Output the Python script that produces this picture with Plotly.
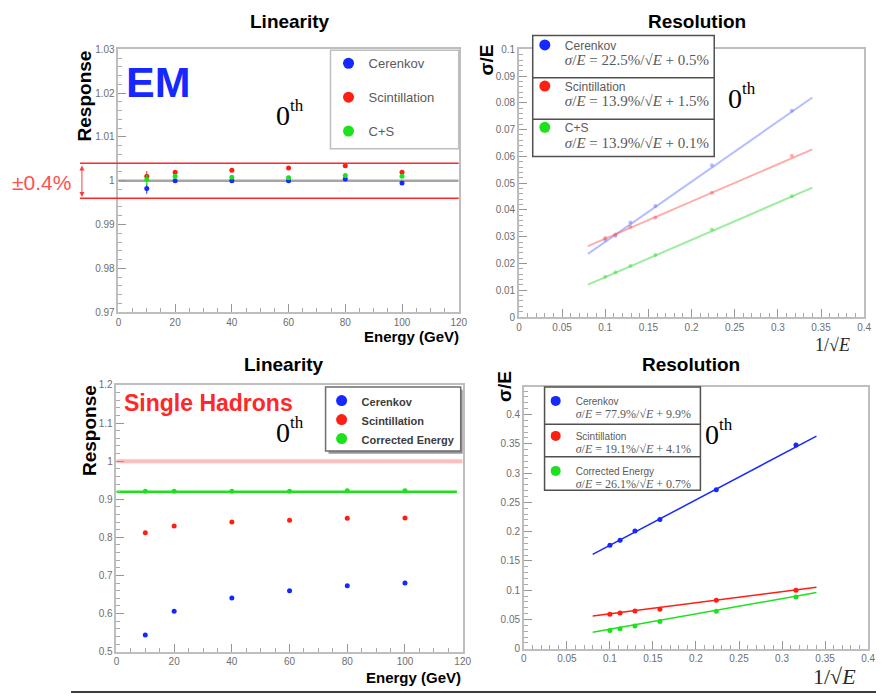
import plotly.graph_objects as go

W, H = 885, 700
def px(x): return x / W
def py(y): return 1 - y / H

# ---------------- data ----------------
energy = [10, 20, 40, 60, 80, 100]
inv_sqrt_e = [0.3162, 0.2236, 0.1581, 0.1291, 0.1118, 0.1000]

em_lin_cer = [0.9982, 1.0000, 1.0000, 1.0000, 1.0004, 0.9995]
em_lin_sci = [1.0010, 1.0019, 1.0024, 1.0029, 1.0034, 1.0019]
em_lin_cs = [1.0002, 1.0010, 1.0008, 1.0007, 1.0012, 1.0010]
em_lin_err = [0.0012, 0.0005, 0.0004, 0.0004, 0.0004, 0.0004]
em_band = [0.996, 1.004]

em_res_cer = [0.0770, 0.0567, 0.0415, 0.0353, 0.0304, 0.0289]
em_res_sci = [0.0602, 0.0464, 0.0372, 0.0337, 0.0308, 0.0295]
em_res_cs = [0.0451, 0.0327, 0.0232, 0.0191, 0.0167, 0.0150]
fit_x = [0.08, 0.34]
em_fit_cer = [0.0236, 0.0820]
em_fit_sci = [0.0265, 0.0626]
em_fit_cs = [0.0121, 0.0483]

had_lin_cer = [0.544, 0.606, 0.641, 0.660, 0.673, 0.680]
had_lin_sci = [0.812, 0.830, 0.840, 0.845, 0.850, 0.851]
had_lin_corr = [0.921, 0.921, 0.921, 0.921, 0.922, 0.922]
had_corr_level = 0.92
had_corr_range = [0, 118]

had_res_cer = [0.348, 0.2716, 0.2207, 0.2010, 0.1854, 0.1765]
had_res_sci = [0.0997, 0.0829, 0.0672, 0.0644, 0.0610, 0.0588]
had_res_corr = [0.0884, 0.0638, 0.0464, 0.0390, 0.0340, 0.0313]
had_fit_cer = [0.161, 0.363]
had_fit_sci = [0.056, 0.105]
had_fit_corr = [0.028, 0.096]

em_names = ["Cerenkov", "Scintillation", "C+S"]
had_names = ["Cerenkov", "Scintillation", "Corrected Energy"]
em_formulas = [("22.5", "0.5"), ("13.9", "1.5"), ("13.9", "0.1")]
had_formulas = [("77.9", "9.9"), ("19.1", "4.1"), ("26.1", "0.7")]

BLUE = "rgb(20,40,255)"
RED = "rgb(255,30,20)"
GREEN = "rgb(30,225,30)"
cols = [BLUE, RED, GREEN]
light = ["rgba(90,110,255,0.45)", "rgba(255,90,90,0.5)", "rgba(60,220,60,0.5)"]

fig = go.Figure()

# ---------- top-left: EM linearity ----------
for name, ys, c, lg in zip(em_names, [em_lin_cer, em_lin_sci, em_lin_cs], cols, range(3)):
    fig.add_trace(go.Scatter(x=energy, y=ys, mode="markers", xaxis="x", yaxis="y",
                             marker=dict(color=c, size=5),
                             error_y=dict(type="data", array=em_lin_err, color=c, thickness=1, width=0),
                             showlegend=False))
    fig.add_trace(go.Scatter(x=[None], y=[None], mode="markers", xaxis="x", yaxis="y",
                             marker=dict(color=c, size=11), name=name, legend="legend",
                             legendgroup="a%d" % lg))

# ---------- top-right: EM resolution ----------
def formula(s, c, fs):
    return ("<span style='font-family:Liberation Serif;font-size:%dpx'><i>σ</i>/<i>E</i> = %s%%/√<i>E</i> + %s%%</span>"
            % (fs, s, c))

for name, ys, fy, c, lc, (s, k), lg in zip(em_names, [em_res_cer, em_res_sci, em_res_cs],
                                            [em_fit_cer, em_fit_sci, em_fit_cs], cols, light,
                                            em_formulas, range(3)):
    fig.add_trace(go.Scatter(x=fit_x, y=fy, mode="lines", xaxis="x2", yaxis="y2",
                             line=dict(color=lc, width=2), showlegend=False))
    fig.add_trace(go.Scatter(x=inv_sqrt_e, y=ys, mode="markers", xaxis="x2", yaxis="y2",
                             marker=dict(color=lc, size=4), showlegend=False))
    fig.add_trace(go.Scatter(x=[None], y=[None], mode="markers", xaxis="x2", yaxis="y2",
                             marker=dict(color=c, size=11), name=name + "<br>" + formula(s, k, 15),
                             legend="legend2", legendgroup="b%d" % lg))

# ---------- bottom-left: hadron linearity ----------
fig.add_trace(go.Scatter(x=had_corr_range, y=[had_corr_level, had_corr_level], mode="lines",
                         xaxis="x3", yaxis="y3", line=dict(color=GREEN, width=2.5), showlegend=False))
for name, ys, c, lg in zip(had_names, [had_lin_cer, had_lin_sci, had_lin_corr], cols, range(3)):
    fig.add_trace(go.Scatter(x=energy, y=ys, mode="markers", xaxis="x3", yaxis="y3",
                             marker=dict(color=c, size=5), showlegend=False))
    fig.add_trace(go.Scatter(x=[None], y=[None], mode="markers", xaxis="x3", yaxis="y3",
                             marker=dict(color=c, size=11), name=name, legend="legend3",
                             legendgroup="c%d" % lg))

# ---------- bottom-right: hadron resolution ----------
for name, ys, fy, c, (s, k), lg in zip(had_names, [had_res_cer, had_res_sci, had_res_corr],
                                       [had_fit_cer, had_fit_sci, had_fit_corr], cols,
                                       had_formulas, range(3)):
    fig.add_trace(go.Scatter(x=fit_x, y=fy, mode="lines", xaxis="x4", yaxis="y4",
                             line=dict(color=c, width=1.5), showlegend=False))
    fig.add_trace(go.Scatter(x=inv_sqrt_e, y=ys, mode="markers", xaxis="x4", yaxis="y4",
                             marker=dict(color=c, size=5), showlegend=False))
    fig.add_trace(go.Scatter(x=[None], y=[None], mode="markers", xaxis="x4", yaxis="y4",
                             marker=dict(color=c, size=10), name=name + "<br>" + formula(s, k, 12),
                             legend="legend4", legendgroup="d%d" % lg))

# ---------------- axes ----------------
FRAME = "rgb(190,190,190)"
TICKF = dict(family="Liberation Sans", size=10, color="rgb(110,110,110)")

def ax(domain, rng, dtick, mdtick, anchor, **kw):
    d = dict(domain=domain, range=rng, dtick=dtick, tick0=0, anchor=anchor,
             showline=True, mirror=True, linecolor=FRAME, linewidth=1.5,
             ticks="inside", ticklen=8, tickcolor="rgb(150,150,150)", tickwidth=1,
             minor=dict(ticks="inside", ticklen=4, dtick=mdtick, tickcolor="rgb(170,170,170)"),
             showgrid=False, zeroline=False, tickfont=TICKF, fixedrange=True)
    d.update(kw)
    return d

fig.update_layout(
    xaxis=ax([px(117), px(462)], [0, 120], 20, 5, "y"),
    yaxis=ax([py(312), py(45)], [0.97, 1.03], 0.01, 0.002, "x", tickformat="~g"),
    xaxis2=ax([px(523), px(873)], [0, 0.4], 0.05, 0.01, "y2"),
    yaxis2=ax([py(317), py(45)], [0, 0.1], 0.01, 0.002, "x2"),
    xaxis3=ax([px(115), px(466)], [0, 120], 20, 5, "y3"),
    yaxis3=ax([py(657), py(386)], [0.5, 1.2], 0.1, 0.02, "x3"),
    xaxis4=ax([px(528), px(877)], [0, 0.4], 0.05, 0.01, "y4"),
    yaxis4=ax([py(654), py(388)], [0, 0.447], 0.05, 0.01, "x4"),
)

# ---------------- legends ----------------
def leg(x, y, size, gap, weight="normal", color="rgb(90,90,90)"):
    return dict(x=px(x), y=py(y), xanchor="left", yanchor="top", bgcolor="rgba(0,0,0,0)",
                borderwidth=0, font=dict(family="Liberation Sans", size=size, color=color, weight=weight),
                tracegroupgap=gap, valign="top", itemclick=False, itemdoubleclick=False)

fig.update_layout(
    legend=leg(330, 44, 13, 14),
    legend2=leg(529, 26, 12, 7),
    legend3=leg(323, 388, 11, 0, weight="bold", color="rgb(60,60,60)"),
    legend4=leg(540, 389, 10, 6),
)

shapes = []
# legend boxes
shapes.append(dict(type="rect", xref="paper", yref="paper", x0=px(332), x1=px(462), y0=py(146), y1=py(46),
                   line=dict(color=FRAME, width=1.5), fillcolor="white", layer="above"))
shapes.append(dict(type="rect", xref="paper", yref="paper", x0=px(537), x1=px(721), y0=py(154), y1=py(31),
                   line=dict(color="rgb(80,80,80)", width=1.5), fillcolor="white", layer="above"))
for yy in [74, 116]:
    shapes.append(dict(type="line", xref="paper", yref="paper", x0=px(537), x1=px(721), y0=py(yy), y1=py(yy),
                       line=dict(color="rgb(80,80,80)", width=1.5), layer="above"))
shapes.append(dict(type="rect", xref="paper", yref="paper", x0=px(330), x1=px(466), y0=py(456), y1=py(391),
                   line=dict(color="rgb(150,150,150)", width=0), fillcolor="rgb(150,150,150)", layer="above"))
shapes.append(dict(type="rect", xref="paper", yref="paper", x0=px(327), x1=px(464), y0=py(453), y1=py(388),
                   line=dict(color="rgb(110,110,110)", width=1.5), fillcolor="white", layer="above"))
shapes.append(dict(type="rect", xref="paper", yref="paper", x0=px(549), x1=px(707), y0=py(493), y1=py(388),
                   line=dict(color="rgb(80,80,80)", width=1.5), fillcolor="white", layer="above"))
for yy in [426, 459]:
    shapes.append(dict(type="line", xref="paper", yref="paper", x0=px(549), x1=px(707), y0=py(yy), y1=py(yy),
                       line=dict(color="rgb(80,80,80)", width=1.5), layer="above"))
# EM reference lines
shapes.append(dict(type="line", xref="x", yref="y", x0=0, x1=120, y0=1, y1=1,
                   line=dict(color="rgb(165,165,165)", width=2.5), layer="below"))
for b in em_band:
    shapes.append(dict(type="line", xref="paper", yref="y", x0=px(78), x1=px(462), y0=b, y1=b,
                       line=dict(color="rgb(255,40,40)", width=1.5)))
# hadron reference line at 1
shapes.append(dict(type="line", xref="x3", yref="y3", x0=0, x1=120, y0=1, y1=1,
                   line=dict(color="rgb(255,190,190)", width=4), layer="below"))
# bottom rule
shapes.append(dict(type="line", xref="paper", yref="paper", x0=px(69), x1=1, y0=py(698), y1=py(698),
                   line=dict(color="rgb(60,60,60)", width=2)))
fig.update_layout(shapes=shapes)

# ---------------- annotations ----------------
ann = []
def text(x, y, t, size, color="black", family="Liberation Sans", bold=False, xanchor="center",
         yanchor="middle", angle=0):
    ann.append(dict(xref="paper", yref="paper", x=px(x), y=py(y), text=("<b>%s</b>" % t) if bold else t,
                    showarrow=False, xanchor=xanchor, yanchor=yanchor, textangle=angle, borderpad=0,
                    font=dict(family=family, size=size, color=color)))

text(291, 17, "Linearity", 19, bold=True)
text(704, 17, "Resolution", 19, bold=True)
text(285, 365, "Linearity", 19, bold=True)
text(697, 365, "Resolution", 19, bold=True)

text(83, 92, "Response", 19, bold=True, angle=-90)
text(490, 56, "σ/E", 19, bold=True, angle=-90)
text(87, 432, "Response", 19, bold=True, angle=-90)
text(509, 388, "σ/E", 19, bold=True, angle=-90)

text(463, 337, "Energy (GeV)", 15, bold=True, xanchor="right")
text(465, 683, "Energy (GeV)", 15, bold=True, xanchor="right")
text(860, 345, "1/√<i>E</i>", 18, family="Liberation Serif", xanchor="right", color="rgb(40,40,40)")
text(866, 682, "1/√<i>E</i>", 22, family="Liberation Serif", xanchor="right", color="rgb(40,40,40)")

text(124, 78, "EM", 43, color=BLUE, bold=True, xanchor="left")
text(122, 404, "Single Hadrons", 23, color="rgb(255,40,40)", bold=True, xanchor="left")
text(8, 180, "±0.4%", 21, color="rgb(255,80,80)", xanchor="left")

# "0th" labels: digit and superscript as separate texts
for (x, y) in [(276, 112), (734, 95), (276, 434), (711, 436)]:
    text(x, y, "0", 28, family="Liberation Serif", xanchor="left")
    text(x + 14, y - 10, "th", 17, family="Liberation Serif", xanchor="left")

ann.append(dict(xref="paper", yref="paper", x=px(80), y=py(163), ax=0, ay=33, text="",
                showarrow=True, arrowside="end+start", arrowhead=2, arrowsize=1, arrowwidth=1,
                arrowcolor="rgb(255,60,60)"))
fig.update_layout(annotations=ann)

fig.update_layout(width=W, height=H, margin=dict(l=0, r=0, t=0, b=0),
                  paper_bgcolor="white", plot_bgcolor="white")

fig.write_html("out.html")
